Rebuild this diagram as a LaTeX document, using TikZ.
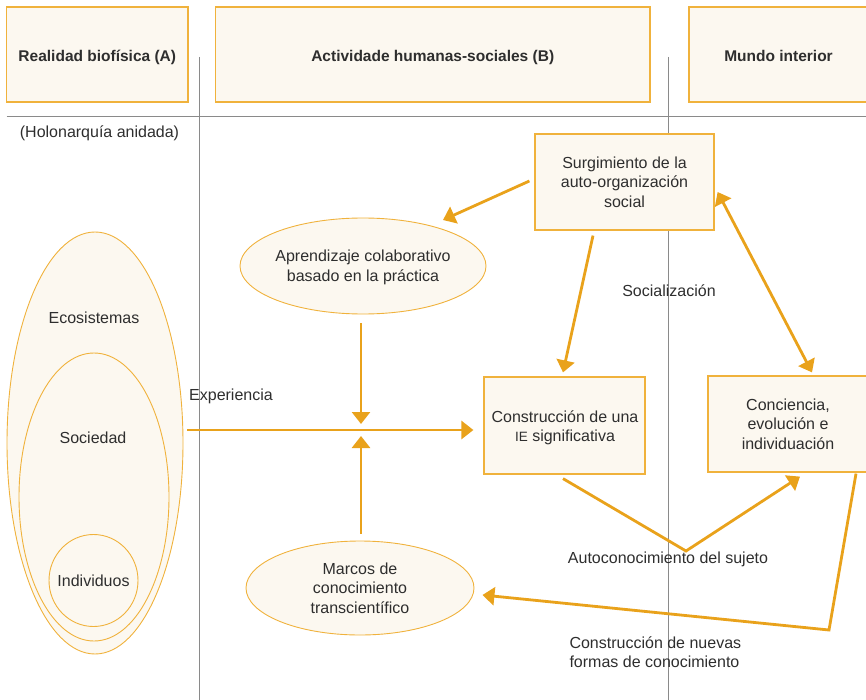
\documentclass[tikz,border=0pt]{standalone}
\usepackage{fontspec}
\setmainfont{Liberation Sans}
\usetikzlibrary{shapes.geometric,arrows.meta,calc}
\definecolor{arr}{HTML}{E9A21B}
\definecolor{bord}{HTML}{F0B23C}
\definecolor{cream}{HTML}{FCF8F0}
\definecolor{grayl}{HTML}{8A8A8A}
\definecolor{txt}{HTML}{2E2E2E}
\begin{document}
\begin{tikzpicture}[x=1pt,y=-1pt,
  every node/.style={text=txt, font=\fontsize{16}{19.5}\selectfont},
  hdr/.style={draw=bord, line width=1.2pt, fill=cream, inner sep=0pt, text height=14.2pt, text depth=0pt, font=\fontsize{15.5}{18}\selectfont\bfseries},
  box/.style={draw=bord, line width=1.2pt, fill=cream, inner sep=0pt, align=center},
  ell/.style={ellipse, draw=bord, line width=0.9pt, fill=cream, inner sep=0pt, align=center},
  flow/.style={draw=arr, line width=2.8pt, -{Triangle[length=12pt,width=18pt]}},
  dflow/.style={draw=arr, line width=2.8pt, {Triangle[length=12pt,width=18pt]}-{Triangle[length=12pt,width=18pt]}},
  sep/.style={draw=grayl, line width=0.9pt}]
\useasboundingbox (0,0) rectangle (866,700);
\clip (0,0) rectangle (866,700);

% separators
\coordinate (l1t) at (199.5,57);
\coordinate (l1b) at (199.5,700);
\coordinate (l2t) at (668.5,57);
\coordinate (l2b) at (668.5,700);
\coordinate (hl) at (6.6,116.7);
\coordinate (hr) at (866,116.7);
\draw[sep] (l1t) -- (l1b);
\draw[sep] (l2t) -- (l2b);
\draw[sep] (hl) -- (hr);

% headers
\node[hdr, minimum width=181.4pt, minimum height=95pt] (hA) at (97.3,54.6) {Realidad biofísica (A)};
\node[hdr, minimum width=434.5pt, minimum height=95pt] (hB) at (432.75,54.6) {Actividade humanas-sociales (B)};
\node[hdr, minimum width=179pt, minimum height=95pt] (hC) at (778.5,54.6) {Mundo interior};

\node (holo) at (99.5,133) {(Holonarquía anidada)};

% nested ellipses
\node[ell, minimum width=176pt, minimum height=422pt] (eco) at (95,443) {};
\node[ell, minimum width=150pt, minimum height=288pt] (soc) at (94,497) {};
\node[ell, minimum width=89pt, minimum height=92pt] (ind) at (93.5,580.5) {};
\node (indt) at (93.5,580.5) {Individuos};
\node (ecot) at (94,318) {Ecosistemas};
\node (soct) at (93,438) {Sociedad};

% main nodes
\node[box, minimum width=179pt, minimum height=96pt] (surg) at (624.5,182) {Surgimiento de la\\auto-organización\\social};
\node[ell, minimum width=246pt, minimum height=96pt] (aprend) at (363,266) {};
\node[align=center] (aprendt) at (363,267.5) {Aprendizaje colaborativo\\basado en la práctica};
\node[box, minimum width=161pt, minimum height=97pt] (constr) at (564.5,425.5) {};
\node[align=center] (constrt) at (565,428) {Construcción de una\\{\fontsize{13.5}{13.5}\selectfont IE} significativa};
\node[box, minimum width=160pt, minimum height=96pt] (conc) at (788,424) {Conciencia,\\evolución e\\individuación};
\node[ell, minimum width=228pt, minimum height=94pt] (marcos) at (360,588) {Marcos de\\conocimiento\\transcientífico};

% labels
\node (socl) at (669,291) {Socialización};
\node (exp) at (231,396) {Experiencia};
\node (auto) at (668,559) {Autoconocimiento del sujeto};
\node[anchor=west, align=left, font=\fontsize{16}{18.5}\selectfont] (cons) at (566,652) {Construcción de nuevas\\formas de conocimiento};

% junction / corner points
\coordinate (jA) at (361,424);
\coordinate (jB) at (361,436);
\coordinate (vb) at (686,551);
\coordinate (rc) at (829,630);

% connectors
\draw[flow] ($(surg.west)+(-5,-1)$) -- ($(aprend.center)+(80,-46)$);
\draw[flow] ($(surg.south)+(-31.5,5)$) -- ($(constr.north)+(-1.5,-4)$);
\draw[dflow] ($(surg.east)+(3,10)$) -- ($(conc.north)+(24,-3)$);
\draw[flow] ($(aprend.south)+(-2,9)$) -- (jA);
\draw[flow] ($(marcos.north)+(1,-7)$) -- (jB);
\draw[flow] ($(eco.east)+(4,-13)$) -- ($(constr.west)+(-10,4.5)$);
\draw[flow] ($(constr.south)+(-1.5,4)$) -- (vb) -- ($(conc.south)+(12,4)$);
\draw[flow] ($(conc.south)+(68,1)$) -- (rc) -- ($(marcos.east)+(8,7)$);
\end{tikzpicture}
\end{document}
